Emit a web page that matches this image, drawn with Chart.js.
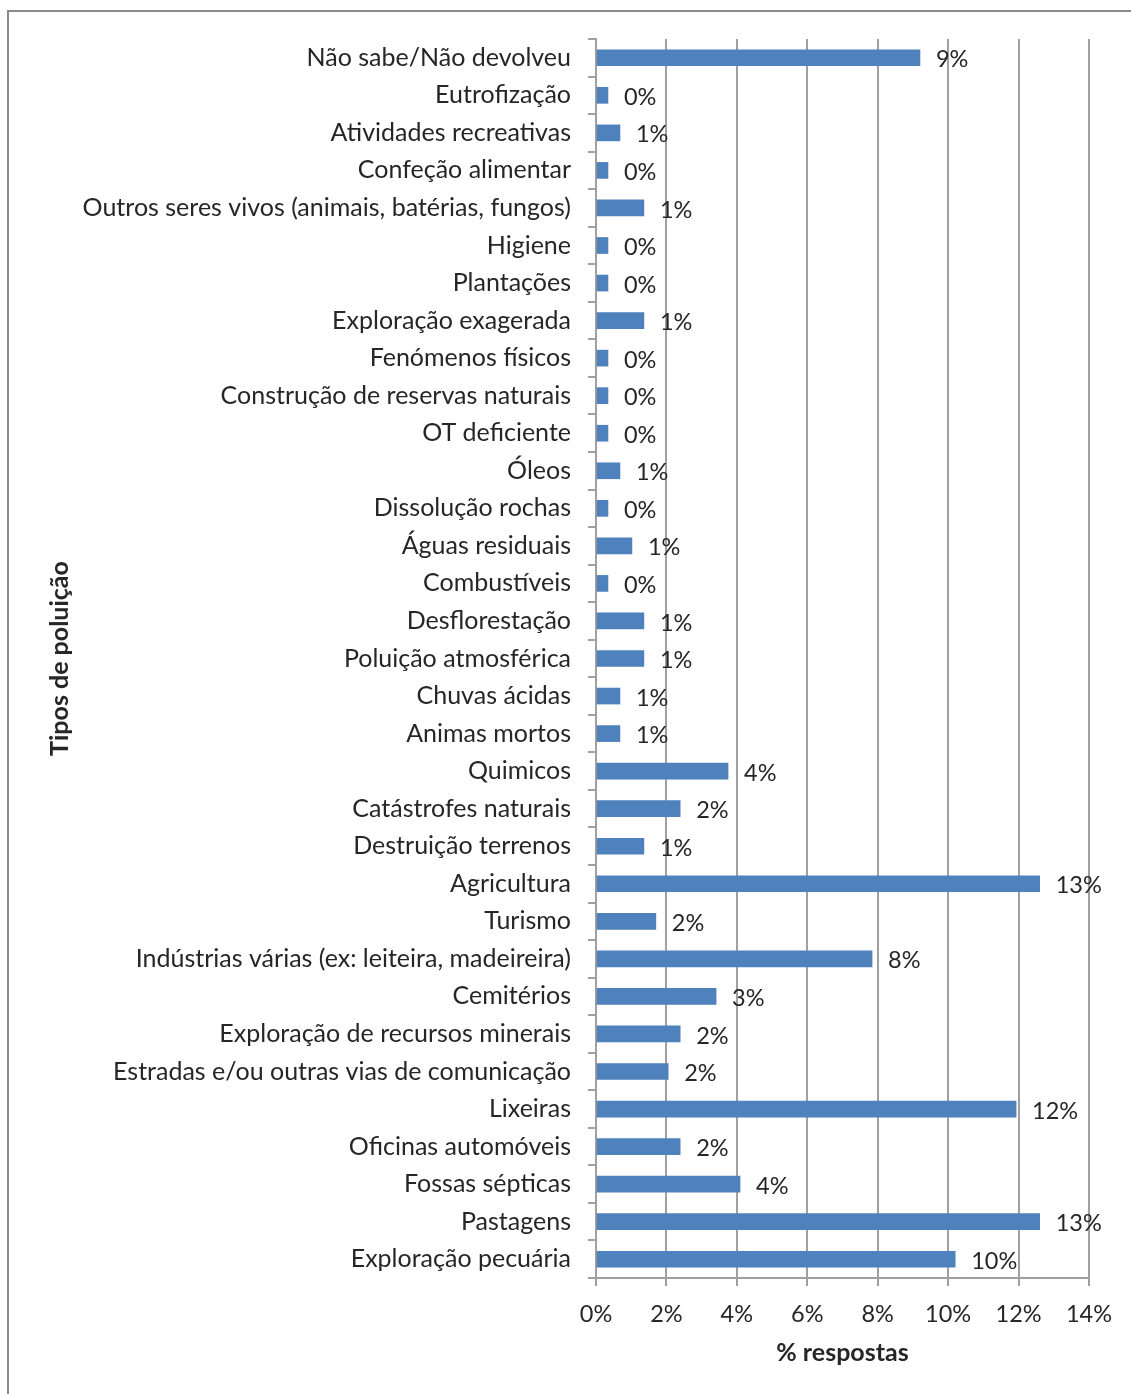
<!DOCTYPE html>
<html>
<head>
<meta charset="utf-8">
<script src="https://cdn.jsdelivr.net/npm/chart.js@4/dist/chart.umd.min.js"></script>
<style>
  html, body { margin: 0; padding: 0; background: #fff; }
  #wrap { width: 1131px; height: 1394px; position: relative; }
</style>
</head>
<body>
<div id="wrap"><canvas id="chart"></canvas></div>
<script>
const categories = [
  "Não sabe/Não devolveu",
  "Eutrofização",
  "Atividades recreativas",
  "Confeção alimentar",
  "Outros seres vivos (animais, batérias, fungos)",
  "Higiene",
  "Plantações",
  "Exploração exagerada",
  "Fenómenos físicos",
  "Construção de reservas naturais",
  "OT deficiente",
  "Óleos",
  "Dissolução rochas",
  "Águas residuais",
  "Combustíveis",
  "Desflorestação",
  "Poluição atmosférica",
  "Chuvas ácidas",
  "Animas mortos",
  "Quimicos",
  "Catástrofes naturais",
  "Destruição terrenos",
  "Agricultura",
  "Turismo",
  "Indústrias várias (ex: leiteira, madeireira)",
  "Cemitérios",
  "Exploração de recursos minerais",
  "Estradas e/ou outras vias de comunicação",
  "Lixeiras",
  "Oficinas automóveis",
  "Fossas sépticas",
  "Pastagens",
  "Exploração pecuária"
]

// percentagem de respostas
const respostas = [
  9.2, 0.34, 0.68, 0.34, 1.36, 0.34, 0.34, 1.36, 0.34, 0.34, 0.34,
  0.68, 0.34, 1.02, 0.34, 1.36, 1.36, 0.68, 0.68, 3.75, 2.39, 1.36,
  12.6, 1.7, 7.84, 3.41, 2.39, 2.05, 11.93, 2.39, 4.09, 12.6, 10.2
]

const xTicks = [0, 2, 4, 6, 8, 10, 12, 14]

const FONT = "Lato"
const GRID = "#a0a0a0"
const TEXT = "#262626"

// moldura cinzenta (canto superior esquerdo do quadro original)
const framePlugin = {
  id: "frame",
  beforeDraw: (chart) => {
    const { ctx, width, height } = chart
    ctx.save()
    ctx.fillStyle = "#fff"
    ctx.fillRect(0, 0, width, height)
    ctx.strokeStyle = "#8c8c8c"
    ctx.lineWidth = 2
    ctx.beginPath()
    ctx.moveTo(8, height)
    ctx.lineTo(8, 11)
    ctx.lineTo(width, 11)
    ctx.stroke()
    ctx.restore()
  }
}

// rótulos de valor à direita de cada barra
const valueLabelsPlugin = {
  id: "valueLabels",
  afterDatasetsDraw: (chart) => {
    const { ctx } = chart
    const bars = chart.getDatasetMeta(0).data
    ctx.save()
    ctx.fillStyle = TEXT
    ctx.textAlign = "left"
    ctx.textBaseline = "middle"
    ctx.font = `23.5px ${FONT}`
    bars.forEach((bar, i) => {
      ctx.fillText(`${Math.round(respostas[i])}%`, bar.x + 16, bar.y + 2)
    })
    ctx.restore()
  }
}

new Chart(document.getElementById("chart"), {
  type: "bar",
  data: {
    labels: categories,
    datasets: [{
      data: respostas,
      backgroundColor: "#4f81bd",
      barThickness: 16,
      borderWidth: 0
    }]
  },
  options: {
    indexAxis: "y",
    responsive: true,
    maintainAspectRatio: false,
    animation: false,
    layout: { padding: { left: 40, right: 42, top: 39, bottom: 0 } },
    plugins: {
      legend: { display: false },
      tooltip: { enabled: false }
    },
    scales: {
      x: {
        min: 0,
        max: 14,
        afterBuildTicks: (scale) => { scale.ticks = xTicks.map(v => ({ value: v })) },
        afterFit: (scale) => { scale.height = 116 },
        grid: { color: GRID, lineWidth: 2, tickLength: 8 },
        border: { color: GRID, width: 2 },
        ticks: {
          color: TEXT,
          padding: 14,
          font: { family: FONT, size: 23.5 },
          callback: (v) => `${v}%`
        },
        title: {
          display: true,
          text: "% respostas",
          color: TEXT,
          font: { family: FONT, size: 25, weight: "bold" },
          padding: { top: 0, bottom: 26 }
        }
      },
      y: {
        afterFit: (scale) => { scale.width = 596 - 40 },
        grid: { drawOnChartArea: false, color: GRID, lineWidth: 2, tickLength: 8 },
        border: { color: GRID, width: 2 },
        ticks: {
          color: TEXT,
          padding: 17,
          autoSkip: false,
          font: { family: FONT, size: 25 }
        },
        title: {
          display: true,
          text: "Tipos de poluição",
          color: TEXT,
          font: { family: FONT, size: 25, weight: "bold" },
          padding: { top: 5, bottom: 0 }
        }
      }
    }
  },
  plugins: [framePlugin, valueLabelsPlugin]
})
</script>
</body>
</html>
